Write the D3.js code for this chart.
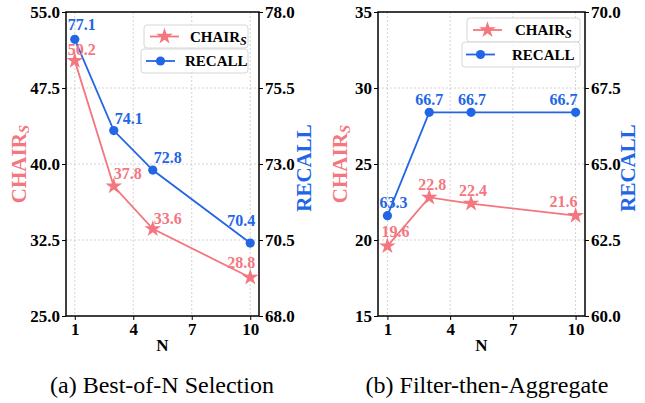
<!DOCTYPE html>
<html><head><meta charset="utf-8">
<script src="https://cdn.jsdelivr.net/npm/d3@7"></script>
<style>body{margin:0;background:#fff}svg{display:block}</style>
</head><body><svg id="c" width="645" height="403" font-family="Liberation Serif"></svg>
<script>
const nValues = [1, 3, 5, 10];
const xTicks = [1, 4, 7, 10];
const chairA = [50.2, 37.8, 33.6, 28.8];
const recallA = [77.1, 74.1, 72.8, 70.4];
const chairB = [19.6, 22.8, 22.4, 21.6];
const recallB = [63.3, 66.7, 66.7, 66.7];
const leftTicksA = [25.0, 32.5, 40.0, 47.5, 55.0];
const rightTicksA = [68.0, 70.5, 73.0, 75.5, 78.0];
const leftTicksB = [15, 20, 25, 30, 35];
const rightTicksB = [60.0, 62.5, 65.0, 67.5, 70.0];
const captions = ["(a) Best-of-N Selection", "(b) Filter-then-Aggregate"];

const FONT = "Liberation Serif";
const RED = "#f4767e", BLUE = "#2266e6";
const svg = d3.select("#c");
const star = d3.symbol().type(d3.symbolStar).size(85);

const panels = [
  {x0: 66, x1: 259, chair: chairA, recall: recallA, lt: leftTicksA, rt: rightTicksA, lfmt: ".1f", caption: captions[0],
   lLabelX: 19, rLabelX: 304, capX: 162,
   cdx: [7, 14, 15, -9], cdy: [-6, -7, -5, -9], rdx: [7, 15, 15, -9], rdy: [-9, -7, -7, -17],
   leg: [{x: 144, y: 25, w: 104, h: 23, lx: 150, tx: 190}, {x: 141, y: 49, w: 107, h: 24, lx: 146, tx: 185}]},
  {x0: 378, x1: 585, chair: chairB, recall: recallB, lt: leftTicksB, rt: rightTicksB, lfmt: "d", caption: captions[1],
   lLabelX: 340, rLabelX: 628, capX: 487,
   cdx: [8, 3, 2, -12], cdy: [-9, -7, -8, -9], rdx: [6, 0, 1, -12], rdy: [-8, -7, -7, -7],
   leg: [{x: 467, y: 18, w: 113, h: 24, lx: 473, tx: 515}, {x: 462, y: 42, w: 118, h: 25, lx: 466, tx: 512}]}
];
const yTop = 12, yBot = 316;

panels.forEach(p => {
  const g = svg.append("g").attr("font-family", FONT);
  const x = d3.scaleLinear().domain([0.55, 10.45]).range([p.x0, p.x1]);
  const yl = d3.scaleLinear().domain([p.lt[0], p.lt[p.lt.length-1]]).range([yBot, yTop]);
  const yr = d3.scaleLinear().domain([p.rt[0], p.rt[p.rt.length-1]]).range([yBot, yTop]);

  // grid
  g.selectAll(".gx").data(xTicks).join("line")
    .attr("x1", d => x(d)).attr("x2", d => x(d)).attr("y1", yTop).attr("y2", yBot)
    .attr("stroke", "#c8c8c8").attr("stroke-width", 0.8).attr("stroke-dasharray", "2,2");
  g.selectAll(".gy").data(p.lt).join("line")
    .attr("x1", p.x0).attr("x2", p.x1).attr("y1", d => yl(d)).attr("y2", d => yl(d))
    .attr("stroke", "#c8c8c8").attr("stroke-width", 0.8).attr("stroke-dasharray", "2,2");

  // axes
  const tickFont = a => {
    a.attr("font-family", FONT).attr("font-size", 17);
    a.selectAll("text").attr("font-family", FONT).attr("font-size", 17).attr("font-weight", "bold").attr("fill", "#000");
  };
  const ax = g.append("g").attr("transform", `translate(0,${yBot})`)
    .call(d3.axisBottom(x).tickValues(xTicks).tickSize(4).tickPadding(3).tickFormat(d3.format("d")));
  ax.call(tickFont); ax.select(".domain").remove();
  const al = g.append("g").attr("transform", `translate(${p.x0},0)`)
    .call(d3.axisLeft(yl).tickValues(p.lt).tickSize(4).tickPadding(2).tickFormat(d3.format(p.lfmt)));
  al.call(tickFont); al.select(".domain").remove();
  const ar = g.append("g").attr("transform", `translate(${p.x1},0)`)
    .call(d3.axisRight(yr).tickValues(p.rt).tickSize(4).tickPadding(2).tickFormat(d3.format(".1f")));
  ar.call(tickFont); ar.select(".domain").remove();
  g.selectAll(".tick line").attr("stroke", "#000").attr("stroke-width", 1);
  al.selectAll(".tick text").attr("dy", "0.34em");
  ar.selectAll(".tick text").attr("dy", "0.34em");
  ax.selectAll(".tick text").attr("dy", "0.71em");

  // frame
  g.append("rect").attr("x", p.x0).attr("y", yTop).attr("width", p.x1 - p.x0).attr("height", yBot - yTop)
    .attr("fill", "none").attr("stroke", "#000").attr("stroke-width", 1.5);

  // axis labels
  g.append("text").attr("x", (p.x0 + p.x1) / 2).attr("y", 351).attr("text-anchor", "middle").attr("font-family", FONT)
    .attr("font-size", 17).attr("font-weight", "bold").text("N");
  const ll = g.append("text").attr("transform", `translate(${p.lLabelX},${(yTop+yBot)/2}) rotate(-90)`).attr("font-family", FONT)
    .attr("text-anchor", "middle").attr("dy", "0.35em").attr("font-size", 21).attr("font-weight", "bold").attr("fill", RED);
  ll.append("tspan").text("CHAIR");
  ll.append("tspan").attr("font-size", 15).attr("font-style", "italic").attr("dy", 3).text("S");
  g.append("text").attr("transform", `translate(${p.rLabelX},${(yTop+yBot)/2 + 4}) rotate(-90)`).attr("font-family", FONT)
    .attr("text-anchor", "middle").attr("dy", "0.35em").attr("font-size", 21).attr("font-weight", "bold").attr("fill", BLUE)
    .text("RECALL");

  // lines
  const lineL = d3.line().x((d, i) => x(nValues[i])).y(d => yl(d));
  const lineR = d3.line().x((d, i) => x(nValues[i])).y(d => yr(d));
  g.append("path").attr("d", lineL(p.chair)).attr("fill", "none").attr("stroke", RED).attr("stroke-width", 1.8);
  g.append("path").attr("d", lineR(p.recall)).attr("fill", "none").attr("stroke", BLUE).attr("stroke-width", 1.8);
  g.selectAll(".st").data(p.chair).join("path")
    .attr("d", star).attr("fill", RED)
    .attr("transform", (d, i) => `translate(${x(nValues[i])},${yl(d)})`);
  g.selectAll(".ci").data(p.recall).join("circle")
    .attr("cx", (d, i) => x(nValues[i])).attr("cy", d => yr(d)).attr("r", 4.6).attr("fill", BLUE);

  // value labels
  g.selectAll(".cl").data(p.chair).join("text")
    .attr("x", (d, i) => x(nValues[i]) + p.cdx[i]).attr("y", (d, i) => yl(d) + p.cdy[i]).attr("font-family", FONT)
    .attr("text-anchor", "middle").attr("font-size", 16).attr("font-weight", "bold").attr("fill", RED)
    .text(d => d3.format(".1f")(d));
  g.selectAll(".rl").data(p.recall).join("text")
    .attr("x", (d, i) => x(nValues[i]) + p.rdx[i]).attr("y", (d, i) => yr(d) + p.rdy[i]).attr("font-family", FONT)
    .attr("text-anchor", "middle").attr("font-size", 16).attr("font-weight", "bold").attr("fill", BLUE)
    .text(d => d3.format(".1f")(d));

  // legends
  const items = [{name: "CHAIR", sub: "S", color: RED, mark: "star"}, {name: "RECALL", color: BLUE, mark: "circle"}];
  items.forEach((it, k) => {
    const L = p.leg[k];
    const lg = g.append("g");
    lg.append("rect").attr("x", L.x).attr("y", L.y).attr("width", L.w).attr("height", L.h).attr("rx", 3)
      .attr("fill", "rgba(255,255,255,0.8)").attr("stroke", "#d6d6d6").attr("stroke-width", 1);
    const cy = L.y + L.h / 2;
    lg.append("line").attr("x1", L.lx).attr("x2", L.lx + 29).attr("y1", cy).attr("y2", cy)
      .attr("stroke", it.color).attr("stroke-width", 1.8);
    if (it.mark === "star") lg.append("path").attr("d", star).attr("fill", it.color).attr("transform", `translate(${L.lx + 14.5},${cy})`);
    else lg.append("circle").attr("cx", L.lx + 14.5).attr("cy", cy).attr("r", 4.6).attr("fill", it.color);
    const t = lg.append("text").attr("x", L.tx).attr("y", cy).attr("dy", "0.35em").attr("font-family", FONT)
      .attr("font-size", 15).attr("font-weight", "bold").attr("fill", "#000");
    t.append("tspan").text(it.name);
    if (it.sub) t.append("tspan").attr("font-size", 12).attr("font-style", "italic").attr("dy", 3).text(it.sub);
  });

  // caption
  svg.append("text").attr("x", p.capX).attr("y", 393).attr("text-anchor", "middle").attr("font-family", FONT)
    .attr("font-size", 24).attr("fill", "#000").text(p.caption);
});
</script></body></html>
